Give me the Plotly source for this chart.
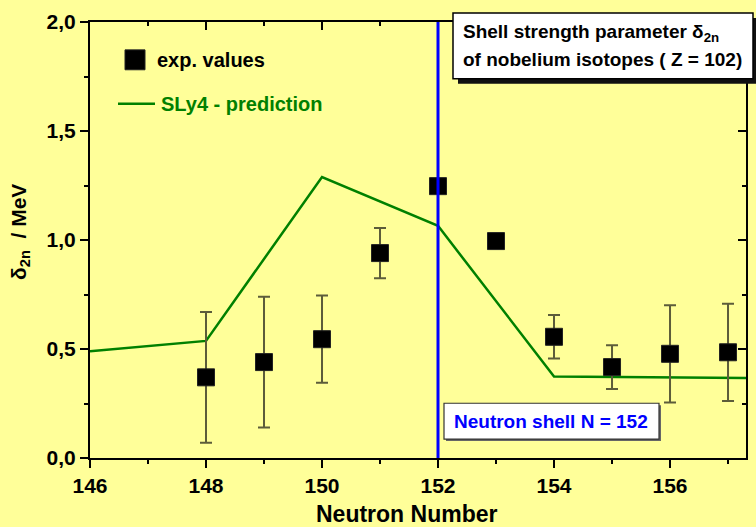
import plotly.graph_objects as go

# Experimental shell-strength values delta_2n for nobelium (Z = 102)
n_exp = [148, 149, 150, 151, 152, 153, 154, 155, 156, 157]
d2n_exp = [0.37, 0.44, 0.545, 0.94, 1.247, 0.995, 0.556, 0.417, 0.478, 0.485]
d2n_err = [0.30, 0.30, 0.20, 0.115, 0.0, 0.0, 0.10, 0.10, 0.223, 0.223]

# SLy4 model prediction
n_sly4 = [146, 148, 150, 152, 154, 156, 158]
d2n_sly4 = [0.49, 0.537, 1.289, 1.065, 0.374, 0.371, 0.366]

shell_n = 152
x_ticks = [146, 148, 150, 152, 154, 156]
y_ticks = [0.0, 0.5, 1.0, 1.5, 2.0]

W, H = 756, 527
L, R, T, B = 90, 10, 20, 69
FONT = "Arial, Liberation Sans, sans-serif"
BG = "#FFFF99"


def px(x):
    return (x - L) / (W - L - R)


def py(y):
    return (H - B - y) / (H - T - B)


fig = go.Figure()

fig.add_trace(go.Scatter(
    x=n_sly4, y=d2n_sly4, mode="lines",
    line=dict(color="#008000", width=2.5),
    showlegend=False, hoverinfo="skip",
))

fig.add_trace(go.Scatter(
    x=n_exp, y=d2n_exp, mode="markers",
    marker=dict(symbol="square", size=17, color="black",
                line=dict(color="#222222", width=1)),
    error_y=dict(type="data", array=d2n_err, visible=True,
                 color="#5c5c3a", thickness=2, width=6),
    showlegend=False,
))

# invisible trace to anchor the mirrored (inward-tick) axes
fig.add_trace(go.Scatter(x=[146], y=[0], xaxis="x2", yaxis="y2",
                         mode="markers", marker=dict(opacity=0),
                         showlegend=False, hoverinfo="skip"))

axis_font = dict(family=FONT, size=21, color="black", weight="bold")
x_rng = [146, 157.31]
y_rng = [0, 2.0]

fig.update_layout(
    width=W, height=H,
    margin=dict(l=L, r=R, t=T, b=B),
    paper_bgcolor=BG, plot_bgcolor=BG,
    separators=",.",
    font=dict(family=FONT, color="black"),
    xaxis=dict(
        range=x_rng, tickvals=x_ticks, ticks="outside", ticklen=8,
        tickwidth=2, tickcolor="black", showline=True, linecolor="black",
        linewidth=2, showgrid=False, zeroline=False, tickfont=axis_font,
        minor=dict(dtick=1, tick0=146, ticks="outside", ticklen=4,
                   tickwidth=2, tickcolor="black", showgrid=False),
    ),
    yaxis=dict(
        range=y_rng, tickvals=y_ticks, tickformat=".1f", ticks="outside",
        ticklen=8, tickwidth=2, tickcolor="black", showline=True,
        linecolor="black", linewidth=2, showgrid=False, zeroline=False,
        tickfont=axis_font,
        minor=dict(dtick=0.25, tick0=0, ticks="outside", ticklen=4,
                   tickwidth=2, tickcolor="black", showgrid=False),
    ),
    xaxis2=dict(
        range=x_rng, overlaying="x", side="top", anchor="y2",
        tickvals=x_ticks, ticks="inside", ticklen=8, tickwidth=2,
        tickcolor="black", showline=True, linecolor="black", linewidth=2,
        showticklabels=False, showgrid=False, zeroline=False,
        minor=dict(dtick=1, tick0=146, ticks="inside", ticklen=4,
                   tickwidth=2, tickcolor="black"),
    ),
    yaxis2=dict(
        range=y_rng, overlaying="y", side="right", anchor="x2",
        tickvals=y_ticks, ticks="inside", ticklen=8, tickwidth=2,
        tickcolor="black", showline=True, linecolor="black", linewidth=2,
        showticklabels=False, showgrid=False, zeroline=False,
        minor=dict(dtick=0.25, tick0=0, ticks="inside", ticklen=4,
                   tickwidth=2, tickcolor="black"),
    ),
    showlegend=False,
)

shapes = []
# neutron shell closure line
shapes.append(dict(type="line", xref="x", yref="paper", x0=shell_n, x1=shell_n,
                   y0=0, y1=1, line=dict(color="#0000FF", width=3), layer="above"))

# legend: marker and line samples
shapes.append(dict(type="rect", xref="paper", yref="paper",
                   x0=px(125), x1=px(145), y0=py(68), y1=py(48),
                   fillcolor="black", line=dict(color="#222222", width=1)))
shapes.append(dict(type="line", xref="paper", yref="paper",
                   x0=px(118), x1=px(155), y0=py(102), y1=py(102),
                   line=dict(color="#008000", width=2.5)))

# title box with drop shadow
shapes.append(dict(type="rect", xref="paper", yref="paper",
                   x0=px(458), x1=px(758), y0=py(82), y1=py(16),
                   fillcolor="#111111", line=dict(width=0)))
shapes.append(dict(type="rect", xref="paper", yref="paper",
                   x0=px(453), x1=px(753), y0=py(77), y1=py(11),
                   fillcolor="white", line=dict(color="black", width=1.5)))

# shell-label box with a light shadow
shapes.append(dict(type="rect", xref="paper", yref="paper",
                   x0=px(446), x1=px(661), y0=py(441), y1=py(405),
                   fillcolor="#666666", line=dict(width=0)))
shapes.append(dict(type="rect", xref="paper", yref="paper",
                   x0=px(444), x1=px(659), y0=py(439), y1=py(403),
                   fillcolor="white", line=dict(color="#333333", width=1.2)))
fig.update_layout(shapes=shapes)

bold = dict(family=FONT, color="black", weight="bold")
annotations = [
    # axis titles
    dict(text="Neutron Number", x=px(407), y=py(514), xanchor="center",
         yanchor="middle", font=dict(bold, size=23)),
    dict(text="δ<sub>2n</sub>  / MeV", x=px(20), y=py(231), xanchor="center",
         yanchor="middle", textangle=-90, font=dict(bold, size=21)),
    # legend
    dict(text="exp. values", x=px(155), y=py(58), xanchor="left", yanchor="middle",
         font=dict(bold, size=20)),
    dict(text="SLy4 - prediction", x=px(159), y=py(102), xanchor="left",
         yanchor="middle", font=dict(bold, size=20, color="#008000")),
    # boxed labels
    dict(text="Shell strength parameter δ<sub>2n</sub>", x=px(461), y=py(31),
         xanchor="left", yanchor="middle", font=dict(bold, size=19)),
    dict(text="of nobelium isotopes ( Z = 102)", x=px(461), y=py(58),
         xanchor="left", yanchor="middle", font=dict(bold, size=19)),
    dict(text="Neutron shell N = 152", x=px(551), y=py(421), xanchor="center",
         yanchor="middle", font=dict(bold, size=19, color="#0000FF")),
]
for a in annotations:
    a.update(xref="paper", yref="paper", showarrow=False)
fig.update_layout(annotations=annotations)

fig.write_html("out.html")
